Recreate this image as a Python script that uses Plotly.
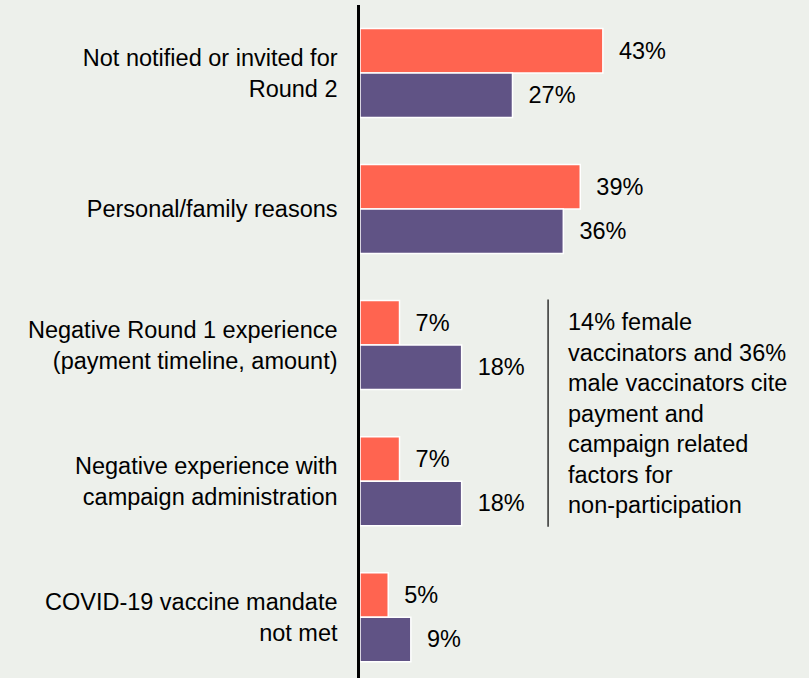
import plotly.graph_objects as go

# Reasons for not participating in Round 2, by vaccinator sex (% of respondents)
categories = [
    "Not notified or invited for<br>Round 2",
    "Personal/family reasons",
    "Negative Round 1 experience<br>(payment timeline, amount)",
    "Negative experience with<br>campaign administration",
    "COVID-19 vaccine mandate<br>not met",
]
female = [43, 39, 7, 7, 5]
male = [27, 36, 18, 18, 9]

note_text = ("14% female<br>vaccinators and 36%<br>male vaccinators cite<br>"
             "payment and<br>campaign related<br>factors for<br>non-participation")

FONT = "Liberation Sans"
FS = 23.5
BG = "#EDF0EB"
CORAL = "#FF6450"
PURPLE = "#605385"

ypos = list(range(len(categories)))

fig = go.Figure()
for name, vals, color in [("Female", female, CORAL), ("Male", male, PURPLE)]:
    fig.add_trace(go.Bar(
        name=name,
        y=ypos,
        x=vals,
        orientation="h",
        marker=dict(color=color, line=dict(color="white", width=1.5)),
        text=[f"\u00a0\u00a0{v}%" for v in vals],
        textposition="outside",
        textfont=dict(family=FONT, size=FS, color="black"),
        constraintext="none",
        cliponaxis=False,
        hoverinfo="skip",
    ))

# Bracket line and note beside the two payment/campaign related categories
fig.add_shape(type="line", xref="x", yref="y",
              x0=33.3, x1=33.3, y0=2.5 - 0.835, y1=2.5 + 0.835,
              line=dict(color="black", width=1.2))
fig.add_annotation(x=36.5, y=2.5, xref="x", yref="y",
                   text=note_text, showarrow=False,
                   xanchor="left", yanchor="middle", align="left",
                   font=dict(family=FONT, size=FS, color="black"))

fig.update_layout(
    width=809, height=678,
    margin=dict(l=360, r=0, t=5, b=0),
    paper_bgcolor=BG, plot_bgcolor=BG,
    barmode="group", bargap=0.346, bargroupgap=0,
    showlegend=False,
    font=dict(family=FONT, size=FS, color="black"),
)
fig.update_xaxes(range=[0, 79.5], visible=False, showgrid=False, zeroline=False)
fig.update_yaxes(
    range=[4.447, -0.5],
    tickmode="array", tickvals=ypos, ticktext=categories,
    showline=True, linecolor="black", linewidth=2.5,
    showgrid=False, zeroline=False,
    ticks="", ticklabelstandoff=15,
    tickfont=dict(family=FONT, size=FS, color="black"),
)

fig.write_html("out.html")
